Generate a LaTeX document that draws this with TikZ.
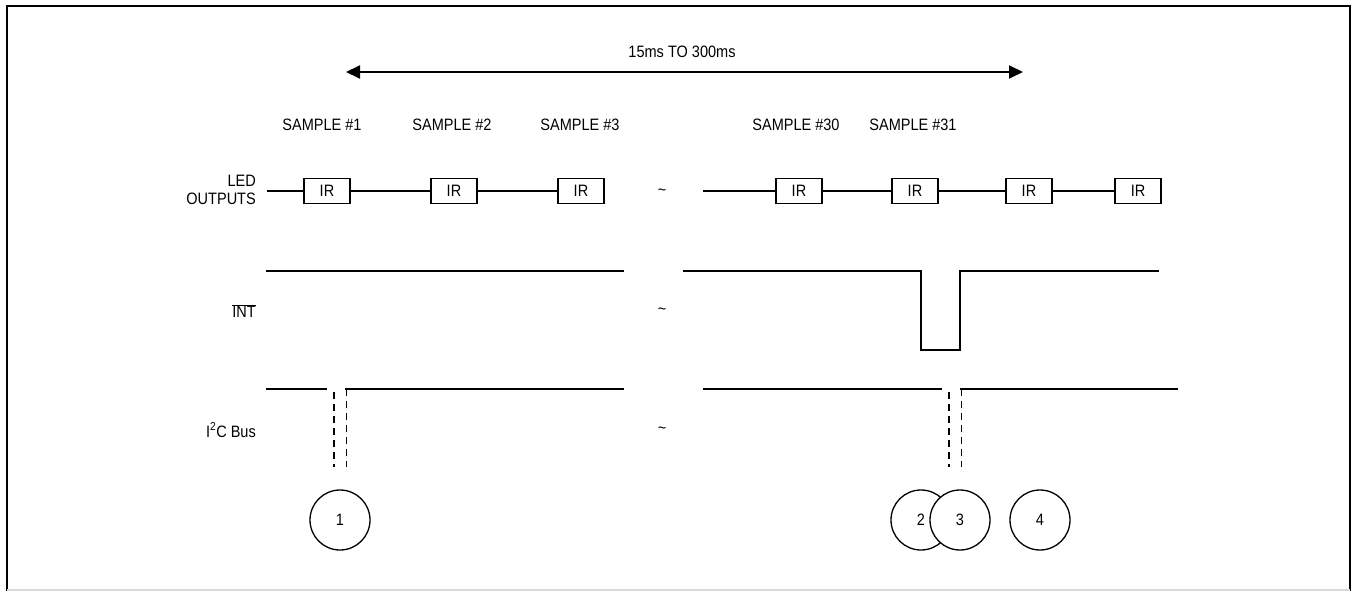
\documentclass[tikz,border=0pt]{standalone}
\usepackage{fontspec}
\setmainfont{Liberation Sans}[FakeStretch=0.88]
\usetikzlibrary{arrows.meta}
\begin{document}
\begin{tikzpicture}[x=1pt,y=-1pt,
  every node/.style={font=\fontsize{16.5}{18}\selectfont, inner sep=0pt},
  irbox/.style={draw, line width=1.2pt, minimum width=46pt, minimum height=25pt},
  sig/.style={line width=1.5pt},
  thickdash/.style={line width=2.4pt, dash pattern=on 7pt off 5pt},
  thindash/.style={line width=1pt, dash pattern=on 7pt off 5pt},
  num/.style={circle, draw, fill=white, line width=1.3pt, minimum size=60pt},
  lbl/.style={anchor=east, align=right}]
\useasboundingbox (0,0) rectangle (1353,591);
% frame
\draw[line width=2pt] (7,591) -- (7,6) -- (1350,6) -- (1350,591);
\draw[black!15, line width=1.5pt] (7,590) -- (1350,590);
% timing arrow
\coordinate (aL) at (346,72);
\coordinate (aR) at (1023,72);
\draw[line width=2pt, {Triangle[length=14pt,width=13pt]}-{Triangle[length=14pt,width=13pt]}] (aL) -- (aR);
\node (range) at (682,52) {15ms TO 300ms};
% sample labels
\node (s1) at (322,125) {SAMPLE \#1};
\node (s2) at (452,125) {SAMPLE \#2};
\node (s3) at (580,125) {SAMPLE \#3};
\node (s30) at (796,125) {SAMPLE \#30};
\node (s31) at (913,125) {SAMPLE \#31};
% signal labels
\node[lbl] (led) at (256,190) {LED\\[0pt]OUTPUTS};
\node[lbl] (int) at (256,311) {$\overline{\hbox{INT}}$};
\node[lbl] (i2c) at (256,430) {I\textsuperscript{2}C Bus};
% tildes
\node (t1) at (662,192) {\textasciitilde};
\node (t2) at (662,311) {\textasciitilde};
\node (t3) at (662,430) {\textasciitilde};
% LED outputs
\coordinate (l0) at (267,191);
\node[irbox] (ir1) at (327,191) {IR};
\node[irbox] (ir2) at (454,191) {IR};
\node[irbox] (ir3) at (581,191) {IR};
\coordinate (r0) at (703,191);
\node[irbox] (ir4) at (799,191) {IR};
\node[irbox] (ir5) at (915,191) {IR};
\node[irbox] (ir6) at (1029,191) {IR};
\node[irbox] (ir7) at (1138,191) {IR};
\draw[sig] (l0) -- (ir1) -- (ir2) -- (ir3);
\draw[sig] (r0) -- (ir4) -- (ir5) -- (ir6) -- (ir7);
% INT waveform
\draw[sig] (266,271) -- (624,271);
\draw[sig] (683,271) -- (921,271) -- (921,350) -- (960,350) -- (960,271) -- (1159,271);
% I2C waveform
\draw[sig] (266,389) -- (327,389);
\draw[sig] (346,389.75) -- (346,389) -- (624,389);
\draw[thickdash] (334,392) -- (334,467);
\draw[thindash] (346,389) -- (346,467);
\draw[sig] (703,389) -- (942,389);
\draw[sig] (961,389.75) -- (961,389) -- (1178,389);
\draw[thickdash] (949,392) -- (949,467);
\draw[thindash] (961,389) -- (961,467);
% numbered circles
\node[num] (c1) at (340,520) {1};
\node[num] (c2) at (921,520) {2};
\node[num] (c3) at (960,520) {3};
\node[num] (c4) at (1040,520) {4};
\end{tikzpicture}
\end{document}
